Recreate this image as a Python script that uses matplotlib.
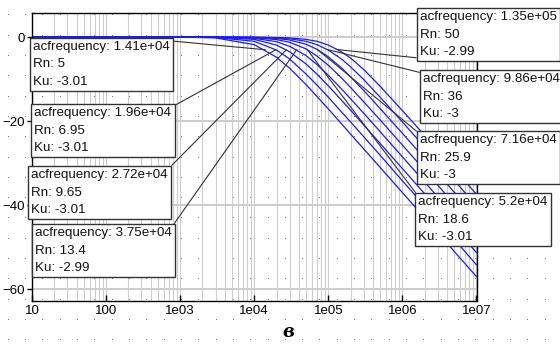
import numpy as np
import matplotlib
matplotlib.use("Agg")
import matplotlib.pyplot as plt
from matplotlib.ticker import FixedLocator, LogLocator, NullFormatter

plt.rcParams["font.family"] = ["Liberation Sans", "DejaVu Sans"]

# frequency points (Hz) read along the x axis
freq = [1e1, 1e3, 3e3, 1e4, 2e4, 3e4, 5e4, 7e4, 1e5, 1.5e5, 2e5, 3e5,
        5e5, 1e6, 2e6, 5e6, 1e7]

# gain (dB) of each curve
gain_1 = [0, 0, -0.2, -1.8, -4.8, -7.4, -11.3, -14.1, -17.1, -20.6, -23.1, -26.6, -31.0, -37.0, -43.0, -51.0, -57.0]
gain_2 = [0, 0, -0.1, -1.0, -3.1, -5.2, -8.8, -11.4, -14.3, -17.8, -20.2, -23.7, -28.1, -34.2, -40.2, -48.1, -54.2]
gain_3 = [0, 0, -0.05, -0.55, -1.9, -3.5, -6.4, -8.8, -11.6, -15.0, -17.4, -20.9, -25.3, -31.3, -37.3, -45.3, -51.3]
gain_4 = [0, 0, 0, -0.3, -1.1, -2.2, -4.4, -6.5, -9.1, -12.3, -14.7, -18.1, -22.5, -28.5, -34.5, -42.5, -48.5]
gain_5 = [0, 0, 0, -0.15, -0.6, -1.25, -2.8, -4.5, -6.7, -9.7, -12.0, -15.4, -19.7, -25.7, -31.7, -39.7, -45.7]
gain_6 = [0, 0, 0, -0.1, -0.3, -0.7, -1.7, -2.9, -4.7, -7.3, -9.5, -12.7, -17.0, -22.9, -28.9, -36.9, -42.9]
gain_7 = [0, 0, 0, -0.05, -0.2, -0.4, -1.0, -1.8, -3.1, -5.2, -7.1, -10.1, -14.3, -20.2, -26.2, -34.1, -40.1]
gain_8 = [0, 0, 0, 0, -0.1, -0.2, -0.55, -1.0, -1.9, -3.5, -5.0, -7.7, -11.7, -17.5, -23.4, -31.4, -37.4]
gains = [gain_1, gain_2, gain_3, gain_4, gain_5, gain_6, gain_7, gain_8]

# marker annotations
acfrequency = [1.41e4, 1.96e4, 2.72e4, 3.75e4, 5.2e4, 7.16e4, 9.86e4, 1.35e5]
rn = [5, 6.95, 9.65, 13.4, 18.6, 25.9, 36, 50]
ku = [-3.01, -3.01, -3.01, -2.99, -3.01, -3, -3, -2.99]

x_ticks = [1e1, 1e2, 1e3, 1e4, 1e5, 1e6, 1e7]
x_labels = ["10", "100", "1e03", "1e04", "1e05", "1e06", "1e07"]
y_ticks = [0, -20, -40, -60]

W, H = 560, 344
# box corner (left, top) in pixels from the top-left, and where the leader starts
box_layout = [
    (30, 37.5, (1, 1)),
    (31, 104, (1, 1)),
    (28, 166, (1, 1)),
    (31.5, 224, (1, 1)),
    (415, 193, (0, 1)),
    (417, 131, (0, 1)),
    (420, 70, (0, 1)),
    (416.5, 8, (0, 0)),
]

fig = plt.figure(figsize=(W / 100, H / 100), dpi=100)
fig.patch.set_facecolor("white")

# dotted canvas background
bg = fig.add_axes([0, 0, 1, 1], zorder=0)
bg.set_xlim(0, W)
bg.set_ylim(H, 0)
bg.axis("off")
dx = np.arange(7.7, W, 17.32)
dy = np.arange(14.4, H, 20.3)
gx, gy = np.meshgrid(dx, dy)
bg.plot(gx.ravel(), gy.ravel(), ls="none", marker="s", ms=0.7,
        mfc="#707070", mec="none")

ax = fig.add_axes([32 / W, 1 - 301 / H, (476.5 - 32) / W, (301 - 12.7) / H], zorder=1)
ax.set_facecolor("none")
ax.set_xscale("log")
ax.set_xlim(10, 1e7)
ax.set_ylim(-62.8, 5.8)

# grid
ax.xaxis.set_minor_locator(LogLocator(base=10, subs=np.arange(2, 10)))
ax.xaxis.set_minor_formatter(NullFormatter())
ax.grid(True, which="both", axis="x", color="#cdcdcd", lw=0.8)
ax.grid(True, which="major", axis="y", color="#cdcdcd", lw=1.4)
ax.set_axisbelow(True)

for g in gains:
    ax.plot(freq, g, color="#1a1aff", lw=0.9, zorder=2)

ax.xaxis.set_major_locator(FixedLocator(x_ticks))
ax.set_xticklabels(x_labels)
ax.set_yticks(y_ticks)
ax.tick_params(axis="x", which="major", direction="in", length=4, width=1,
               pad=3, labelsize=9.5, colors="black")
ax.tick_params(axis="x", which="minor", length=0)
ax.tick_params(axis="y", direction="out", length=3.5, width=1, pad=1.5,
               labelsize=9.5)
for s in ax.spines.values():
    s.set_color("black")
    s.set_linewidth(1)

fs = 9.6
pad_px = 0.25 * fs * 100 / 72
for i in range(len(acfrequency)):
    left, top, corner = box_layout[i]
    txt = "acfrequency: %.3g\nRn: %g\nKu: %g" % (acfrequency[i], rn[i], ku[i])
    ax.annotate(txt, xy=(acfrequency[i], ku[i]), xycoords="data",
                xytext=(left + pad_px, H - top - pad_px),
                textcoords="figure pixels", ha="left", va="top",
                fontsize=fs, linespacing=1.6, color="#111111",
                bbox=dict(boxstyle="square,pad=0.25", fc="white",
                          ec="#333333", lw=1),
                arrowprops=dict(arrowstyle="-", color="#333333", lw=0.8,
                                relpos=corner, shrinkA=0, shrinkB=0),
                annotation_clip=False, zorder=5)

fig.text(288 / W, 1 - 332 / H, "в", family="DejaVu Serif", style="italic",
         weight="bold", fontsize=13, ha="center", va="center")

fig.savefig("out.png", dpi=100)
